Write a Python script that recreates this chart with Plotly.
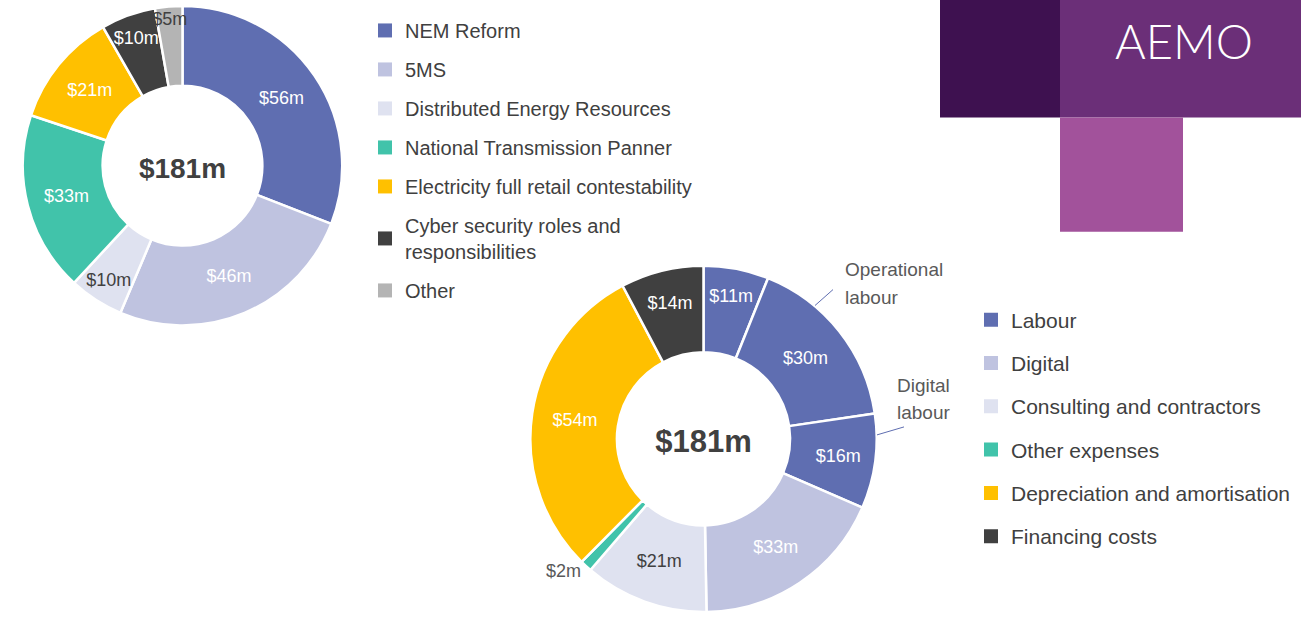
import plotly.graph_objects as go

W, H = 1301, 617

# ---------------- data ----------------
left_labels = ["NEM Reform", "5MS", "Distributed Energy Resources",
               "National Transmission Panner", "Electricity full retail contestability",
               "Cyber security roles and<br>responsibilities", "Other"]
left_values = [56, 46, 10, 33, 21, 10, 5]
left_colors = ["#5F6EB1", "#BFC3E0", "#DFE2F0", "#41C3AA", "#FFC000", "#404040", "#B4B4B4"]
left_textcolors = ["white", "white", "#404040", "white", "white", "white", "#404040"]

right_slice_ids = ["Labour a", "Labour b", "Labour c", "Digital", "Consulting and contractors",
                   "Other expenses", "Depreciation and amortisation", "Financing costs"]
right_values = [11, 30, 16, 33, 21, 2, 54, 14]
right_colors = ["#5F6EB1", "#5F6EB1", "#5F6EB1", "#BFC3E0", "#DFE2F0", "#41C3AA", "#FFC000", "#404040"]
right_textcolors = ["white", "white", "white", "white", "#404040", "#595959", "white", "white"]
right_textpos = ["inside", "inside", "inside", "inside", "inside", "outside", "inside", "inside"]

right_legend_labels = ["Labour", "Digital", "Consulting and contractors", "Other expenses",
                       "Depreciation and amortisation", "Financing costs"]
right_legend_colors = ["#5F6EB1", "#BFC3E0", "#DFE2F0", "#41C3AA", "#FFC000", "#404040"]

total_label = "$181m"

FONT = "Arial, Liberation Sans, sans-serif"
TXT = "#404040"

def px_x(x):
    return x / W

def px_y(y):
    return 1 - y / H

fig = go.Figure()

fig.add_trace(go.Pie(
    labels=left_labels, values=left_values, sort=False, direction="clockwise",
    hole=0.5, showlegend=False,
    marker=dict(colors=left_colors, line=dict(color="white", width=2.5)),
    texttemplate="$%{value}m", textposition="inside", insidetextorientation="horizontal",
    textfont=dict(family=FONT, size=18, color=left_textcolors),
    title=dict(text="<b>" + total_label + "</b>", position="middle center",
               font=dict(family=FONT, size=28, color=TXT)),
    domain=dict(x=[px_x(22), px_x(343)], y=[px_y(327), px_y(6)]),
    hoverinfo="skip",
))

fig.add_trace(go.Pie(
    labels=right_slice_ids, values=right_values, sort=False, direction="clockwise",
    hole=0.5, showlegend=False,
    marker=dict(colors=right_colors, line=dict(color="white", width=2.5)),
    texttemplate="$%{value}m", textposition=right_textpos, insidetextorientation="horizontal",
    textfont=dict(family=FONT, size=18, color=right_textcolors),
    title=dict(text="<b>" + total_label + "</b>", position="middle center",
               font=dict(family=FONT, size=31, color=TXT)),
    domain=dict(x=[px_x(529.5), px_x(877.5)], y=[px_y(615), px_y(267)]),
    hoverinfo="skip",
))

# legend entries
for i, (lab, col) in enumerate(zip(left_labels, left_colors)):
    fig.add_trace(go.Scatter(x=[None], y=[None], mode="markers", name=lab,
                             marker=dict(symbol="square", size=14, color=col),
                             legend="legend", legendgroup="L%d" % i, hoverinfo="skip"))
for i, (lab, col) in enumerate(zip(right_legend_labels, right_legend_colors)):
    fig.add_trace(go.Scatter(x=[None], y=[None], mode="markers", name=lab,
                             marker=dict(symbol="square", size=14, color=col),
                             legend="legend2", legendgroup="R%d" % i, hoverinfo="skip"))

shapes = [
    dict(type="rect", xref="paper", yref="paper", x0=px_x(940), x1=px_x(1060), y0=px_y(118), y1=px_y(0),
         fillcolor="#3E1150", line=dict(width=0), layer="below"),
    dict(type="rect", xref="paper", yref="paper", x0=px_x(1060), x1=px_x(1301), y0=px_y(118), y1=px_y(0),
         fillcolor="#6B2F78", line=dict(width=0), layer="below"),
    dict(type="rect", xref="paper", yref="paper", x0=px_x(1060), x1=px_x(1183), y0=px_y(233), y1=px_y(118),
         fillcolor="#A2529B", line=dict(width=0), layer="below"),
    # leader lines
    dict(type="line", xref="paper", yref="paper", x0=px_x(815), y0=px_y(307), x1=px_x(833), y1=px_y(291),
         line=dict(color="#5F6EB1", width=1)),
    dict(type="line", xref="paper", yref="paper", x0=px_x(877), y0=px_y(437), x1=px_x(904), y1=px_y(429),
         line=dict(color="#5F6EB1", width=1)),
]

ann_font = dict(family=FONT, size=19, color="#595959")
annotations = [
    dict(text="AEMO", x=px_x(1184), y=px_y(41), xref="paper", yref="paper", showarrow=False,
         xanchor="center", yanchor="middle",
         font=dict(family="Lato, Open Sans, sans-serif", size=47, color="white", weight=300)),
    dict(text="Operational", x=px_x(843), y=px_y(271), xref="paper", yref="paper", showarrow=False,
         xanchor="left", yanchor="middle", font=ann_font),
    dict(text="labour", x=px_x(843), y=px_y(299), xref="paper", yref="paper", showarrow=False,
         xanchor="left", yanchor="middle", font=ann_font),
    dict(text="Digital", x=px_x(895), y=px_y(387), xref="paper", yref="paper", showarrow=False,
         xanchor="left", yanchor="middle", font=ann_font),
    dict(text="labour", x=px_x(895), y=px_y(415), xref="paper", yref="paper", showarrow=False,
         xanchor="left", yanchor="middle", font=ann_font),
]

fig.update_layout(
    width=W, height=H, autosize=False, margin=dict(l=0, r=0, t=0, b=0),
    paper_bgcolor="white", plot_bgcolor="white",
    xaxis=dict(visible=False), yaxis=dict(visible=False),
    uniformtext=dict(minsize=18, mode="show"),
    shapes=shapes, annotations=annotations,
    legend=dict(x=px_x(365), y=px_y(11), xanchor="left", yanchor="top",
                font=dict(family=FONT, size=20, color=TXT), traceorder="grouped",
                tracegroupgap=10, itemsizing="trace", bgcolor="rgba(0,0,0,0)"),
    legend2=dict(x=px_x(971), y=px_y(301), xanchor="left", yanchor="top",
                 font=dict(family=FONT, size=21, color=TXT), traceorder="grouped",
                 tracegroupgap=13, itemsizing="trace", bgcolor="rgba(0,0,0,0)"),
    showlegend=True,
)

fig.write_html("out.html", config={"displayModeBar": False, "responsive": False},
               post_script="document.body.style.margin='0';document.body.style.padding='0';")
